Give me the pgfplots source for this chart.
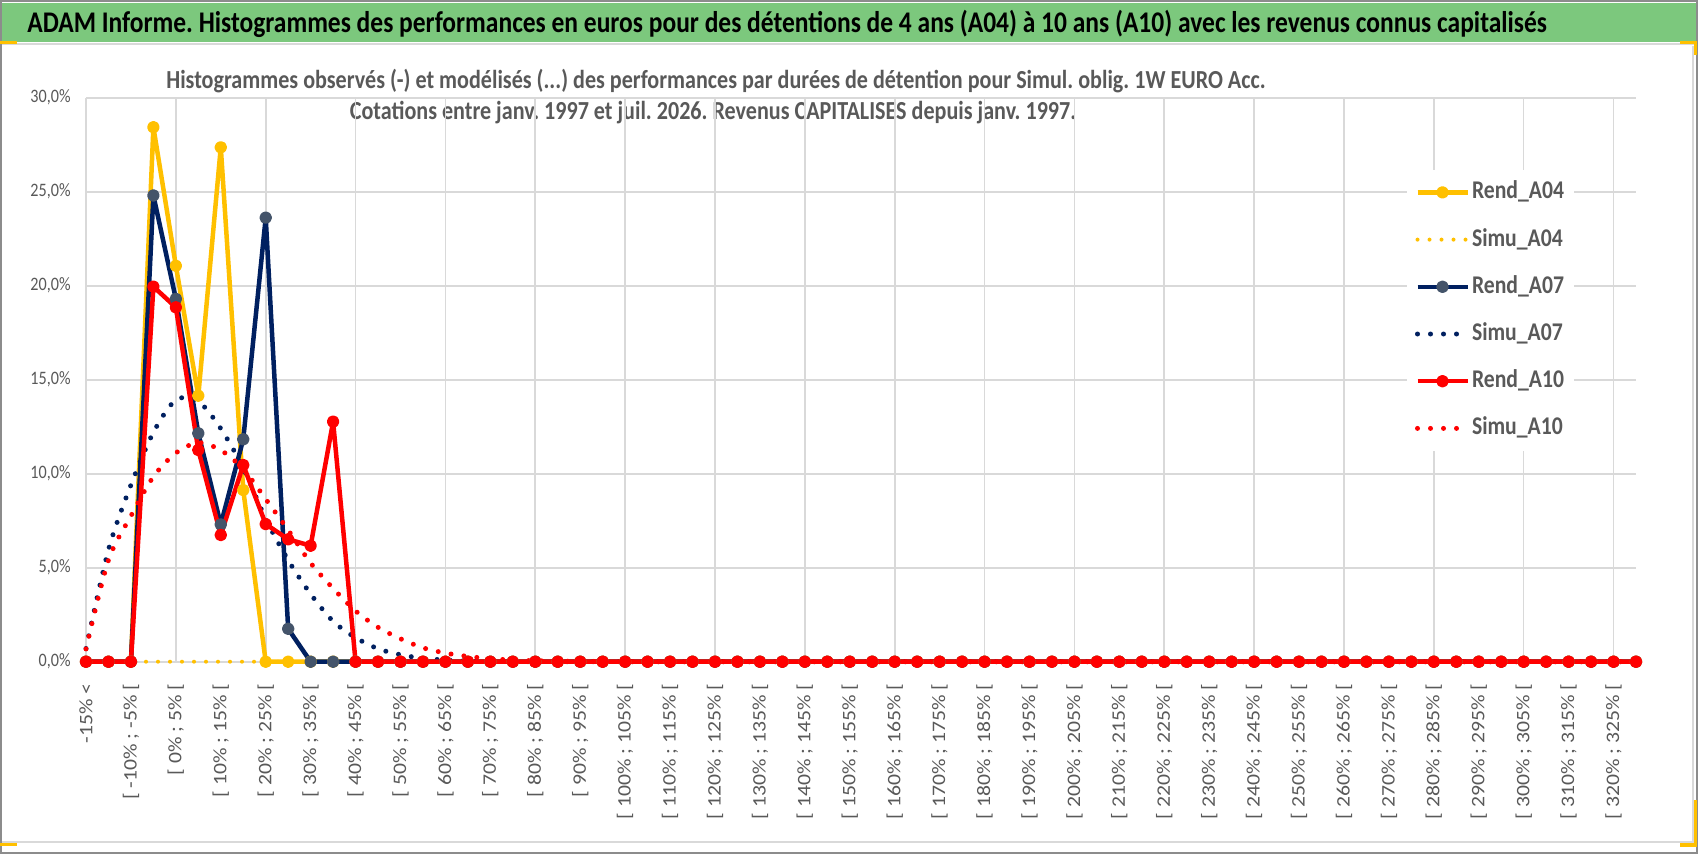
\documentclass[border=0pt]{standalone}
\usepackage{pgfplots}
\pgfplotsset{compat=1.18}
\usepackage{pgfplotstable}
\usepackage{fontspec}
\setmainfont{Carlito}[FakeStretch=0.85]
\newfontfamily\labfont{Carlito}
\frenchspacing
\definecolor{cy}{HTML}{FFC000}
\definecolor{cn}{HTML}{002060}
\definecolor{cr}{HTML}{FF0000}
\definecolor{cmark}{HTML}{44546A}
\definecolor{textgray}{HTML}{595959}
\definecolor{gridgray}{HTML}{D9D9D9}
\definecolor{titlegreen}{RGB}{124,200,125}
\definecolor{framegray}{HTML}{8C8C8C}

\pgfplotstableread{
i r04 s04 r07 s07 r10 s10
0 0 0 0 0.70 0 0.68
1 0 0 0 5.95 0 5.40
2 0 0 0 9.40 0 7.75
3 28.43 0 24.80 12.20 19.95 9.84
4 21.06 0 19.30 13.92 18.85 11.10
5 14.15 0 12.15 13.85 11.26 11.65
6 27.36 0 7.30 12.40 6.74 11.25
7 9.13 0 11.83 10.30 10.46 10.25
8 0 0 23.62 7.60 7.32 8.65
9 0 0 1.75 5.40 6.51 7.00
10 0 0 0 3.60 6.17 5.25
11 0 0 0 2.15 12.77 3.90
12 0 0 0 1.28 0 2.70
13 0 0 0 0.69 0 1.83
14 0 0 0 0.37 0 1.22
15 0 0 0 0.18 0 0.74
16 0 0 0 0.09 0 0.46
17 0 0 0 0.04 0 0.28
18 0 0 0 0.02 0 0.16
19 0 0 0 0.01 0 0.09
20 0 0 0 0 0 0.05
21 0 0 0 0 0 0.03
22 0 0 0 0 0 0.02
23 0 0 0 0 0 0.01
24 0 0 0 0 0 0
25 0 0 0 0 0 0
26 0 0 0 0 0 0
27 0 0 0 0 0 0
28 0 0 0 0 0 0
29 0 0 0 0 0 0
30 0 0 0 0 0 0
31 0 0 0 0 0 0
32 0 0 0 0 0 0
33 0 0 0 0 0 0
34 0 0 0 0 0 0
35 0 0 0 0 0 0
36 0 0 0 0 0 0
37 0 0 0 0 0 0
38 0 0 0 0 0 0
39 0 0 0 0 0 0
40 0 0 0 0 0 0
41 0 0 0 0 0 0
42 0 0 0 0 0 0
43 0 0 0 0 0 0
44 0 0 0 0 0 0
45 0 0 0 0 0 0
46 0 0 0 0 0 0
47 0 0 0 0 0 0
48 0 0 0 0 0 0
49 0 0 0 0 0 0
50 0 0 0 0 0 0
51 0 0 0 0 0 0
52 0 0 0 0 0 0
53 0 0 0 0 0 0
54 0 0 0 0 0 0
55 0 0 0 0 0 0
56 0 0 0 0 0 0
57 0 0 0 0 0 0
58 0 0 0 0 0 0
59 0 0 0 0 0 0
60 0 0 0 0 0 0
61 0 0 0 0 0 0
62 0 0 0 0 0 0
63 0 0 0 0 0 0
64 0 0 0 0 0 0
65 0 0 0 0 0 0
66 0 0 0 0 0 0
67 0 0 0 0 0 0
68 0 0 0 0 0 0
69 0 0 0 0 0 0
}\data

\begin{document}
\begin{tikzpicture}
\useasboundingbox (0,0) rectangle (849pt,-427pt);
\begin{scope}[x=0.5pt,y=-0.5pt]
  \fill[white] (0,0) rectangle (1698,854);
  \fill[titlegreen] (2,3) rectangle (1696,42);
  \draw[gridgray, line width=1pt] (2,43.8) -- (1696,43.8);
  \draw[gridgray, line width=0.8pt] (2,842) -- (1693,842) -- (1693,46);
  \draw[framegray, line width=1pt] (1,1) rectangle (1697,853);
  \draw[cy, line width=1.6pt] (0,42.8) -- (17,42.8);
  \draw[cy, line width=1.6pt] (1680,42.8) -- (1695.5,42.8) -- (1695.5,55);
  \draw[cy, line width=1.6pt] (0,844.5) -- (17,844.5);
  \draw[cy, line width=1.6pt] (1680,845) -- (1695.5,845) -- (1695.5,800);
  \node[anchor=base west, inner sep=0pt, font=\bfseries\fontsize{15}{17}\selectfont] at (27,32.7)
    {ADAM Informe. Histogrammes des performances en euros pour des détentions de 4 ans (A04) à 10 ans (A10) avec les revenus connus capitalisés};
  \node[anchor=base, inner sep=0pt, text=textgray, font=\bfseries\fontsize{13}{15}\selectfont] at (716,88.3)
    {Histogrammes observés (-) et modélisés (...) des performances par durées de détention pour Simul. oblig. 1W EURO Acc.};
  \node[anchor=base, inner sep=0pt, text=textgray, font=\bfseries\fontsize{13}{15}\selectfont] at (713,120)
    {Cotations entre janv. 1997 et juil. 2026. Revenus CAPITALISES depuis janv. 1997.};
\end{scope}
\begin{axis}[
  at={(43pt,-330.85pt)}, anchor=south west,
  scale only axis, width=775pt, height=282pt,
  xmin=0, xmax=69, ymin=0, ymax=30,
  clip=false,
  axis line style={draw=none},
  major tick length=0pt, minor tick length=0pt,
  ytick={0,5,...,30},
  yticklabels={{0,0\%},{5,0\%},{10,0\%},{15,0\%},{20,0\%},{25,0\%},{30,0\%}},
  yticklabel style={anchor=east, inner sep=0pt, xshift=-7.5pt, text=textgray, font=\fontsize{9.5}{11}\selectfont},
  ymajorgrids,
  xtick={0,2,...,68},
  xticklabels={{-15\% <},{[ -10\% ; -5\% [},{[ 0\% ; 5\% [},{[ 10\% ; 15\% [},{[ 20\% ; 25\% [},{[ 30\% ; 35\% [},{[ 40\% ; 45\% [},{[ 50\% ; 55\% [},{[ 60\% ; 65\% [},{[ 70\% ; 75\% [},{[ 80\% ; 85\% [},{[ 90\% ; 95\% [},{[ 100\% ; 105\% [},{[ 110\% ; 115\% [},{[ 120\% ; 125\% [},{[ 130\% ; 135\% [},{[ 140\% ; 145\% [},{[ 150\% ; 155\% [},{[ 160\% ; 165\% [},{[ 170\% ; 175\% [},{[ 180\% ; 185\% [},{[ 190\% ; 195\% [},{[ 200\% ; 205\% [},{[ 210\% ; 215\% [},{[ 220\% ; 225\% [},{[ 230\% ; 235\% [},{[ 240\% ; 245\% [},{[ 250\% ; 255\% [},{[ 260\% ; 265\% [},{[ 270\% ; 275\% [},{[ 280\% ; 285\% [},{[ 290\% ; 295\% [},{[ 300\% ; 305\% [},{[ 310\% ; 315\% [},{[ 320\% ; 325\% [}},
  xticklabel style={rotate=90, yscale=0.88, anchor=east, inner sep=0pt, text=textgray, font=\labfont\fontsize{10.85}{12}\selectfont},
  xticklabel shift=10.8pt,
  minor xtick={0,4,...,68},
  xminorgrids,
  major grid style={gridgray, line width=0.8pt},
  minor grid style={gridgray, line width=0.8pt},
  legend style={at={(0.852,0.8727)}, anchor=north west, draw=none, fill=white,
    font=\bfseries\fontsize{12.75}{14}\selectfont, text=textgray,
    row sep=9.1pt, inner sep=4pt,
    nodes={inner sep=1pt, text height=9.5pt, text depth=3pt}},
  legend cell align=left,
  legend image code/.code={\draw[mark repeat=2,mark phase=2] plot coordinates {(0pt,0pt) (12.5pt,0pt) (25pt,0pt)};},
]
\addplot[cy, line width=2.25pt, line join=round, mark=*, mark size=2pt, mark options={fill=cy, draw=cy, solid}] table[x=i,y=r04]{\data};
\addlegendentry{Rend\_A04}
\addplot[cy, line width=2pt, line cap=round, dash pattern=on 0pt off 6pt] table[x=i,y=s04]{\data};
\addlegendentry{Simu\_A04}
\addplot[cn, line width=2.25pt, line join=round, mark=*, mark size=2pt, mark options={fill=cmark, draw=cmark, solid}] table[x=i,y=r07]{\data};
\addlegendentry{Rend\_A07}
\addplot[cn, line width=2.5pt, line cap=round, dash pattern=on 0pt off 6.5pt, smooth, tension=0.5] table[x=i,y=s07]{\data};
\addlegendentry{Simu\_A07}
\addplot[cr, line width=2.25pt, line join=round, mark=*, mark size=2pt, mark options={fill=cr, draw=cr, solid}] table[x=i,y=r10]{\data};
\addlegendentry{Rend\_A10}
\addplot[cr, line width=2.5pt, line cap=round, dash pattern=on 0pt off 6.5pt, smooth, tension=0.5] table[x=i,y=s10]{\data};
\addlegendentry{Simu\_A10}
\end{axis}
\end{tikzpicture}
\end{document}
